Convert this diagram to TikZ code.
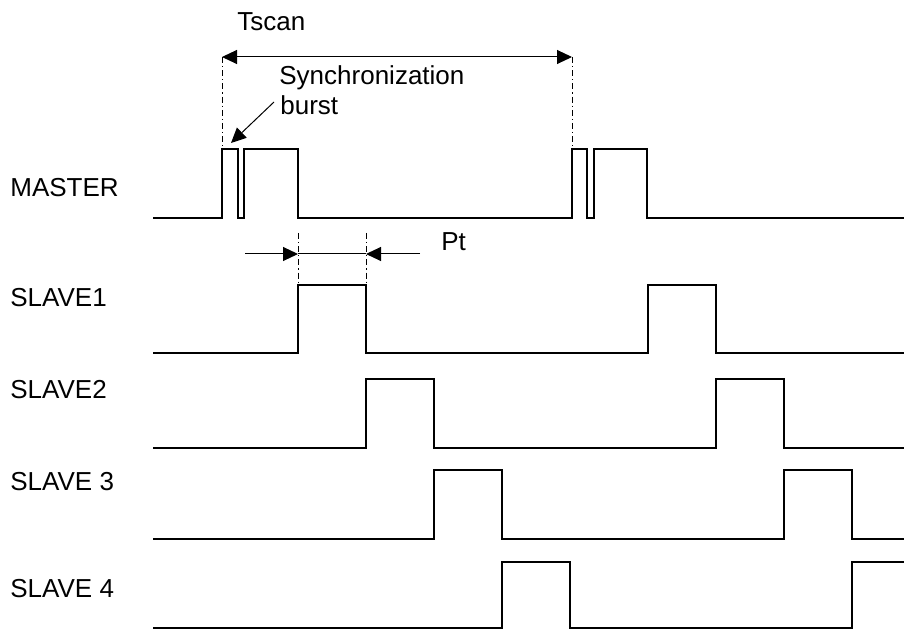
\documentclass[tikz,border=0pt]{standalone}
\usepackage{fontspec}
\setmainfont{Liberation Sans}
\usetikzlibrary{arrows.meta}

\tikzset{
	signal/.style={line width=1pt, line join=miter},
	dimline/.style={line width=0.5pt},
	guide/.style={line width=0.45pt, dash pattern=on 3pt off 1.5pt on 0.6pt off 1.5pt},
	tip/.style={-{Triangle[length=7.5pt, width=7pt]}},
	tipboth/.style={{Triangle[length=7.5pt, width=7pt]}-{Triangle[length=7.5pt, width=7pt]}},
	lbl/.style={anchor=base west, inner sep=0pt, font=\fontsize{13}{15}\selectfont},
}

\begin{document}
\begin{tikzpicture}[x=0.5pt, y=-0.5pt]
	\useasboundingbox (0,0) rectangle (904,630);

	% channel names
	\node[lbl] (master) at (10,197)  {MASTER};
	\node[lbl] (slave1) at (10,307)  {SLAVE1};
	\node[lbl] (slave2) at (10,399)  {SLAVE2};
	\node[lbl] (slave3) at (10,490)  {SLAVE 3};
	\node[lbl] (slave4) at (10,597)  {SLAVE 4};

	\node[lbl] (tscan)  at (237,31)  {Tscan};
	\node[lbl] (sync)   at (279,85)  {Synchronization};
	\node[lbl] (burst)  at (280,115) {burst};
	\node[lbl] (pt)     at (441,251) {Pt};

	% waveforms
	\draw[signal] (153,218) -| (222,149) -| (238,218) -| (244,149) -| (298,218)
		-| (572,149) -| (587,218) -| (594,149) -| (647,218) -- (904,218);
	\draw[signal] (153,353) -| (298,285) -| (366,353) -| (648,285) -| (716,353) -- (904,353);
	\draw[signal] (153,448) -| (366,379) -| (434,448) -| (716,379) -| (784,448) -- (904,448);
	\draw[signal] (153,539) -| (434,470) -| (502,539) -| (784,470) -| (852,539) -- (904,539);
	\draw[signal] (153,628) -| (502,562) -| (570,628) -| (852,562) -- (904,562);

	% Tscan
	\coordinate (ts1) at (222,57);
	\coordinate (ts2) at (572,57);
	\coordinate (tsb1) at (222,149);
	\coordinate (tsb2) at (572,149);
	\path [guide] (ts1) edge (tsb1);
	\path [guide] (ts2) edge (tsb2);
	\path [dimline, tipboth] (ts1) edge (ts2);

	% burst pointer
	\coordinate (bfrom) at (274,102);
	\coordinate (bto)   at (231,143);
	\path [dimline, tip] (bfrom) edge (bto);

	% Pt
	\coordinate (pa)  at (298,254);
	\coordinate (pb)  at (366,254);
	\coordinate (pl)  at (245,254);
	\coordinate (pr)  at (420,254);
	\coordinate (pat) at (298,233);
	\coordinate (pbt) at (366,233);
	\coordinate (pab) at (298,285);
	\coordinate (pbb) at (366,285);
	\path [guide] (pat) edge (pab);
	\path [guide] (pbt) edge (pbb);
	\path [dimline, tip] (pl) edge (pa);
	\path [dimline, tip] (pr) edge (pb);
	\path [dimline]      (pa) edge (pb);
\end{tikzpicture}
\end{document}
